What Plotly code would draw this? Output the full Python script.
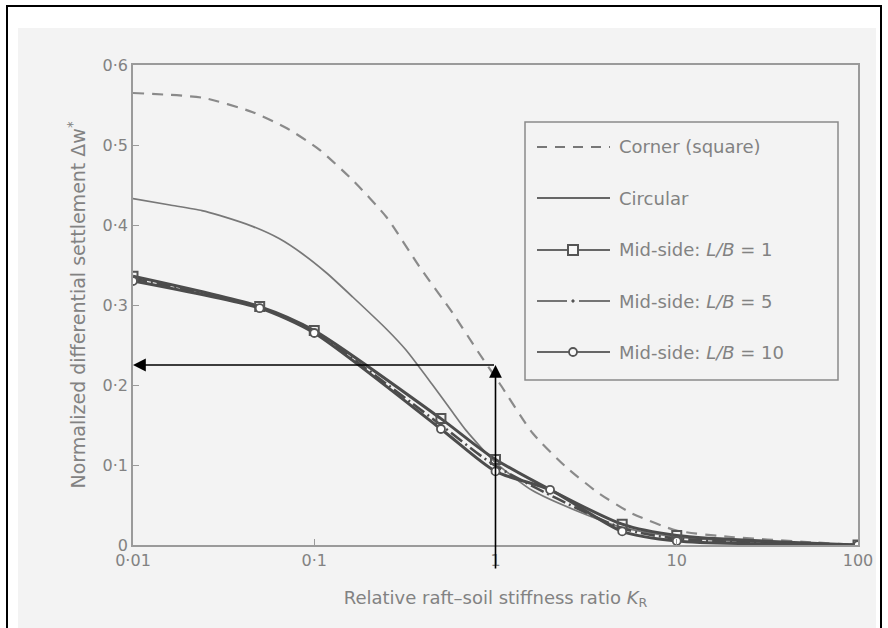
import plotly.graph_objects as go

# ---------------- data ----------------
corner_K = [0.01, 0.0243, 0.0458, 0.0706, 0.107, 0.163, 0.25, 0.38, 0.58, 0.81, 1.05, 1.6, 2.45, 3.7, 5.6, 10, 20, 50, 100]
corner_y = [0.565, 0.559, 0.541, 0.521, 0.494, 0.456, 0.41, 0.348, 0.29, 0.24, 0.2025, 0.14, 0.0975, 0.065, 0.04, 0.018, 0.01, 0.004, 0.0]

circ_K = [0.01, 0.016, 0.024, 0.03, 0.046, 0.064, 0.086, 0.117, 0.163, 0.25, 0.32, 0.45, 0.58, 0.69, 1.0, 1.6, 3, 5, 10, 30, 100]
circ_y = [0.433, 0.425, 0.418, 0.412, 0.398, 0.383, 0.364, 0.340, 0.310, 0.270, 0.244, 0.200, 0.166, 0.143, 0.103, 0.068, 0.040, 0.022, 0.010, 0.003, 0.0]

lb1_K = [0.01, 0.05, 0.1, 0.5, 1, 5, 10, 100]
lb1_y = [0.336, 0.298, 0.268, 0.158, 0.107, 0.026, 0.012, 0.0]

lb5_K = [0.01, 0.05, 0.1, 0.5, 1, 5, 10, 100]
lb5_y = [0.333, 0.297, 0.266, 0.150, 0.099, 0.021, 0.008, 0.0]

lb10_K = [0.01, 0.05, 0.1, 0.5, 1, 2, 5, 10, 100]
lb10_y = [0.330, 0.296, 0.265, 0.145, 0.092, 0.069, 0.017, 0.005, 0.0]

x_tickvals = [0.01, 0.1, 1, 10, 100]
x_ticktext = ["0·01", "0·1", "1", "10", "100"]
y_tickvals = [0, 0.1, 0.2, 0.3, 0.4, 0.5, 0.6]
y_ticktext = ["0", "0·1", "0·2", "0·3", "0·4", "0·5", "0·6"]

legend_labels = ["Corner (square)", "Circular", "Mid-side: <i>L/B</i> = 1",
                 "Mid-side: <i>L/B</i> = 5", "Mid-side: <i>L/B</i> = 10"]

arrow_K = 1
arrow_y = 0.225

# ---------------- layout geometry (pixels) ----------------
W, H = 888, 628
L, R, T, B = 133, 858, 65, 545

def px(x):
    return (x - L) / (R - L)

def py(y):
    return (B - y) / (B - T)

THICK = "#4c4c4c"
TXT = "#828282"
FONT = "DejaVu Sans"

fig = go.Figure()

fig.add_trace(go.Scatter(x=corner_K, y=corner_y, mode="lines",
                         line=dict(color="#8a8a8a", width=2.2, dash="11px,8px", shape="spline", smoothing=0.6),
                         showlegend=False))
fig.add_trace(go.Scatter(x=circ_K, y=circ_y, mode="lines",
                         line=dict(color="#787878", width=1.7, shape="spline", smoothing=0.6),
                         showlegend=False))
fig.add_trace(go.Scatter(x=lb5_K, y=lb5_y, mode="lines",
                         line=dict(color=THICK, width=2.6, dash="14px,4px,2px,4px", shape="spline", smoothing=0.7),
                         showlegend=False))
fig.add_trace(go.Scatter(x=lb1_K, y=lb1_y, mode="lines+markers",
                         line=dict(color=THICK, width=3, shape="spline", smoothing=0.7),
                         marker=dict(symbol="square-open", size=9, color="#555555", line=dict(width=2)),
                         showlegend=False))
fig.add_trace(go.Scatter(x=lb10_K, y=lb10_y, mode="lines+markers",
                         line=dict(color=THICK, width=3, shape="spline", smoothing=0.7),
                         marker=dict(symbol="circle", size=8, color="white", line=dict(width=1.8, color="#555555")),
                         showlegend=False))

shapes = []
# scanned page background
shapes.append(dict(type="rect", xref="paper", yref="paper", layer="below",
                   x0=px(18), x1=px(876), y0=py(28), y1=py(640),
                   fillcolor="#f3f3f3", line=dict(width=0)))
# black outer frame
shapes.append(dict(type="rect", xref="paper", yref="paper",
                   x0=px(7), x1=px(881), y0=py(6), y1=py(660),
                   fillcolor="rgba(0,0,0,0)", line=dict(color="black", width=2)))
# legend box
shapes.append(dict(type="rect", xref="paper", yref="paper",
                   x0=px(525), x1=px(838), y0=py(122), y1=py(380),
                   fillcolor="rgba(0,0,0,0)", line=dict(color="#8a8a8a", width=1.5)))

ent_y = [147, 198, 250, 301, 352]
sx0, sx1, sxm = 537, 610, 573
shapes.append(dict(type="line", xref="paper", yref="paper", x0=px(sx0), x1=px(sx1), y0=py(ent_y[0]), y1=py(ent_y[0]),
                   line=dict(color="#777777", width=2, dash="10px,8px")))
shapes.append(dict(type="line", xref="paper", yref="paper", x0=px(sx0), x1=px(sx1), y0=py(ent_y[1]), y1=py(ent_y[1]),
                   line=dict(color="#666666", width=1.8)))
shapes.append(dict(type="line", xref="paper", yref="paper", x0=px(sx0), x1=px(sx1), y0=py(ent_y[2]), y1=py(ent_y[2]),
                   line=dict(color="#666666", width=1.8)))
shapes.append(dict(type="rect", xref="paper", yref="paper", x0=px(sxm - 5), x1=px(sxm + 5), y0=py(ent_y[2] - 5), y1=py(ent_y[2] + 5),
                   fillcolor="#f8f8f8", line=dict(color="#555555", width=2)))
shapes.append(dict(type="line", xref="paper", yref="paper", x0=px(sx0), x1=px(sxm - 6), y0=py(ent_y[3]), y1=py(ent_y[3]),
                   line=dict(color="#666666", width=1.8)))
shapes.append(dict(type="line", xref="paper", yref="paper", x0=px(sxm + 6), x1=px(sx1), y0=py(ent_y[3]), y1=py(ent_y[3]),
                   line=dict(color="#666666", width=1.8)))
shapes.append(dict(type="circle", xref="paper", yref="paper", x0=px(sxm - 1.2), x1=px(sxm + 1.2), y0=py(ent_y[3] - 1.2), y1=py(ent_y[3] + 1.2),
                   fillcolor="#555555", line=dict(color="#555555", width=1)))
shapes.append(dict(type="line", xref="paper", yref="paper", x0=px(sx0), x1=px(sx1), y0=py(ent_y[4]), y1=py(ent_y[4]),
                   line=dict(color="#666666", width=1.8)))
shapes.append(dict(type="circle", xref="paper", yref="paper", x0=px(sxm - 4), x1=px(sxm + 4), y0=py(ent_y[4] - 4), y1=py(ent_y[4] + 4),
                   fillcolor="#f8f8f8", line=dict(color="#555555", width=1.8)))

annotations = []
for lab, yy in zip(legend_labels, ent_y):
    annotations.append(dict(xref="paper", yref="paper", x=px(617), y=py(yy), text=lab, showarrow=False,
                            xanchor="left", yanchor="middle", font=dict(family=FONT, size=18, color=TXT)))

# black arrows (added annotation on the scan)
annotations.append(dict(x=-2, y=arrow_y, xref="x", yref="y", ax=0, ay=arrow_y, axref="x", ayref="y",
                        text="", showarrow=True, arrowhead=2, arrowsize=1.6, arrowwidth=1.6, arrowcolor="black"))
annotations.append(dict(x=0, y=arrow_y, xref="x", yref="y", ax=0, ay=205, axref="x", ayref="pixel",
                        text="", showarrow=True, arrowhead=2, arrowsize=1.6, arrowwidth=1.6, arrowcolor="black"))

fig.update_layout(
    width=W, height=H,
    margin=dict(l=L, r=W - R, t=T, b=H - B),
    paper_bgcolor="white", plot_bgcolor="rgba(0,0,0,0)",
    font=dict(family=FONT, color=TXT, size=16),
    shapes=shapes, annotations=annotations,
    showlegend=False,
    xaxis=dict(type="log", range=[-2, 2], tickvals=x_tickvals, ticktext=x_ticktext,
               showgrid=False, zeroline=False, showline=True, mirror=True,
               linecolor="#9a9a9a", linewidth=1.6, ticks="inside", ticklen=6, tickcolor="#9a9a9a",
               tickfont=dict(family=FONT, size=16, color=TXT),
               title=dict(text="Relative raft–soil stiffness ratio <i>K</i><sub>R</sub>", standoff=22,
                          font=dict(family=FONT, size=18, color=TXT))),
    yaxis=dict(range=[0, 0.6], tickvals=y_tickvals, ticktext=y_ticktext,
               showgrid=False, zeroline=False, showline=True, mirror=True,
               linecolor="#9a9a9a", linewidth=1.6, ticks="inside", ticklen=6, tickcolor="#9a9a9a",
               tickfont=dict(family=FONT, size=16, color=TXT),
               title=dict(text="Normalized differential settlement Δw<sup>*</sup>", standoff=12,
                          font=dict(family=FONT, size=19, color=TXT))),
)

fig.write_html("out.html")
